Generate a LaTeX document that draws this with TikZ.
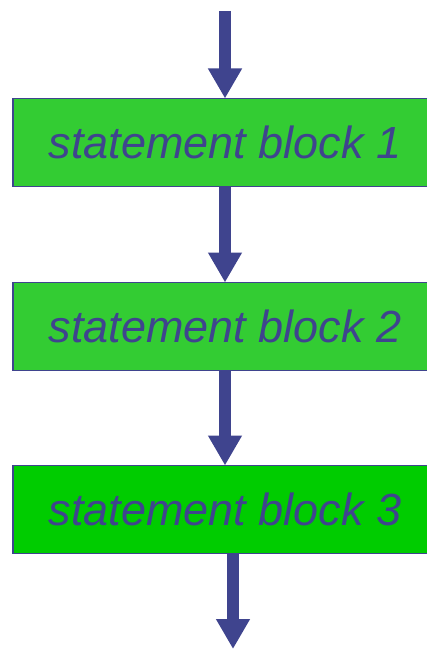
\documentclass[tikz,border=0pt]{standalone}
\usepackage{fontspec}
\newfontfamily\blockfont{Liberation Sans}
\usetikzlibrary{arrows.meta,positioning}
\definecolor{flowblue}{HTML}{3F448E}
\definecolor{blockgreen}{HTML}{33CC33}
\definecolor{lastgreen}{HTML}{00CC00}
\begin{document}
\begin{tikzpicture}[x=1bp,y=-1bp,
    block/.style={draw=flowblue,line width=1.4bp,fill=blockgreen,
      minimum width=424bp,minimum height=88bp,outer sep=0pt,inner sep=0pt,
      text=flowblue,font=\blockfont\itshape\fontsize{45bp}{52bp}\selectfont},
    flow/.style={draw=flowblue,line width=12bp,
      -{Triangle[width=32bp,length=30bp]}}]
    \useasboundingbox (0,0) rectangle (426,650);

    % Marking the statement blocks
    \node [block] (blockone) at (225,142.5) {statement block 1};
    \node [block] (blocktwo) at (225,326.5) {statement block 2};
    \node [block,fill=lastgreen] (blockthree) at (225,509.5) {statement block 3};

    % Free ends of the first and last arrow
    \coordinate (start) at (225,11);
    \coordinate (finish) at (233,649);

    % Drawing the arrows
    \draw [flow] (start) -- (blockone.north);
    \draw [flow] (blockone) -- (blocktwo);
    \draw [flow] (blocktwo) -- (blockthree);
    \draw [flow] (blockthree.south -| finish) -- (finish);
\end{tikzpicture}
\end{document}
